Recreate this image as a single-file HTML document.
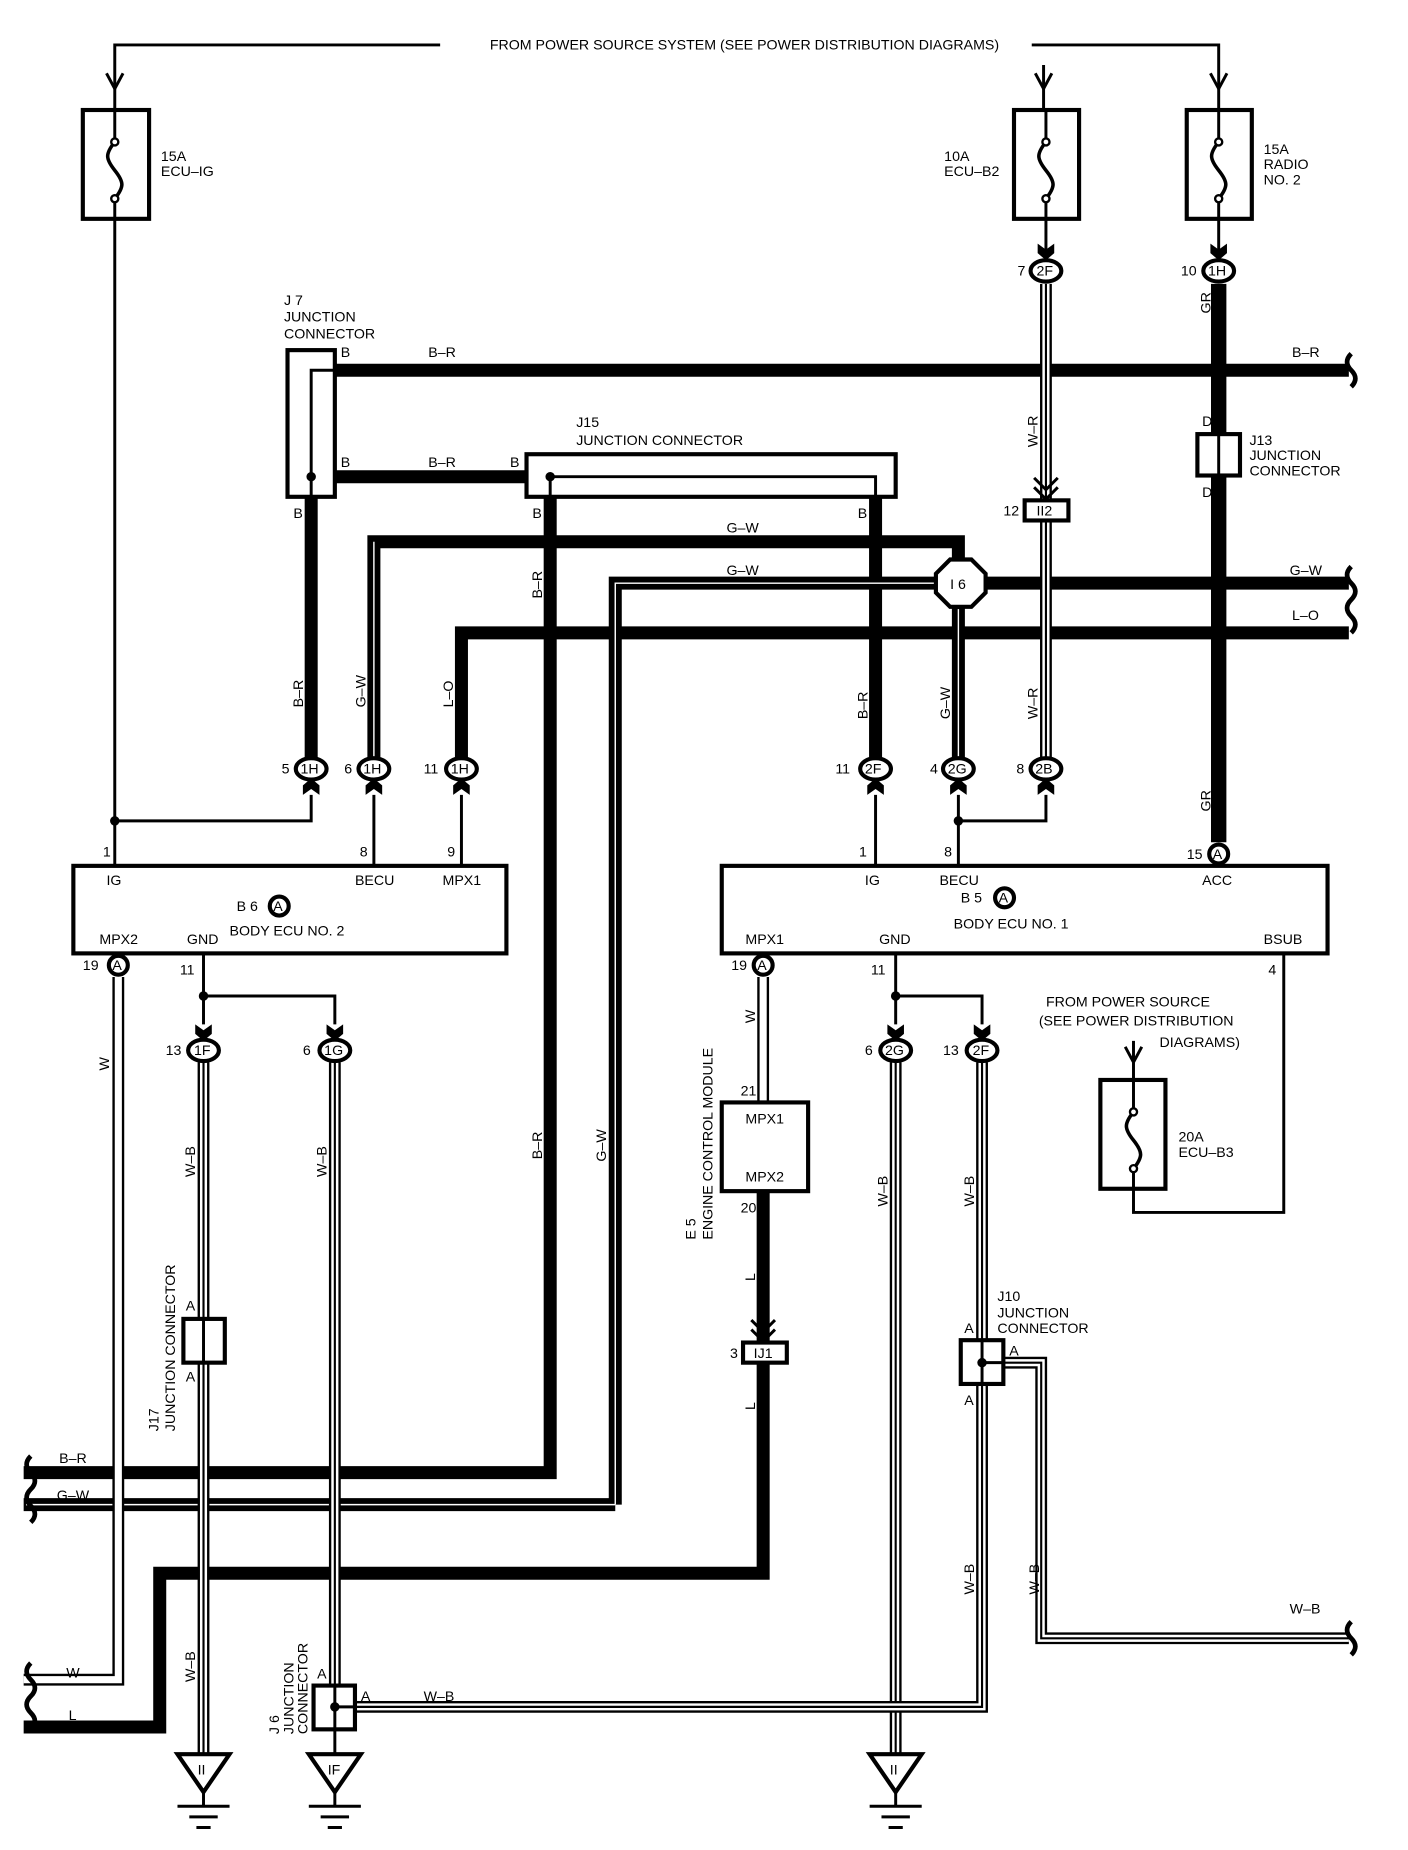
<!DOCTYPE html>
<html><head><meta charset="utf-8"><style>
html,body{margin:0;padding:0;background:#fff}
svg{display:block}
text{font-family:"Liberation Sans",Arial,sans-serif;font-size:12px;fill:#000}
.t{fill:none;stroke:#000;stroke-width:2.5}
.k{fill:none;stroke:#000;stroke-width:11}
.g{fill:none;stroke:#000;stroke-width:13}
.w1{fill:none;stroke:#000;stroke-width:10}
.w2{fill:none;stroke:#fff;stroke-width:6}
.w3{fill:none;stroke:#000;stroke-width:1.8}
.c{fill:#fff;stroke:#000;stroke-width:3.5}
.b{fill:#fff;stroke:#000;stroke-width:3.5}
</style></head><body>
<svg width="1408" height="1850" viewBox="0 0 1190 1564" preserveAspectRatio="none">
<defs>
<path id="p1" d="M884 240V423M884 440V640"/>
<path id="p2" d="M172 898V1483"/>
<path id="p3" d="M283 898V1425"/>
<path id="p4" d="M757 898V1483"/>
<path id="p5" d="M830 898V1133M830 1170V1443H300"/>
<path id="p6" d="M848 1152H880V1385H1140"/>
<path id="q1" d="M100 826V1420H20"/>
<path id="q2" d="M645 826V932"/>
</defs>
<path class="t" d="M372 38H97V93M872 38H1030V93M882 55V93M97 185V732M97 694H263V672M884 185V220M1030 185V220"/>
<path class="t" d="M90 62L97 75L104 62M875 62L882 75L889 62M1023 62L1030 75L1037 62"/>
<text x="414" y="42">FROM POWER SOURCE SYSTEM (SEE POWER DISTRIBUTION DIAGRAMS)</text>
<g class="b"><rect x="70" y="93" width="56" height="92"/><rect x="857" y="93" width="55" height="92"/><rect x="1003" y="93" width="55" height="92"/><rect x="930" y="913" width="55" height="92"/></g>
<g fill="none" stroke="#000" stroke-width="3">
<path d="M97 93V120M97 168V185M884 93V120M884 168V185M1030 93V120M1030 168V185M958 913V940M958 988V1005" stroke-width="2.5"/>
<path d="M97 120c-8 10-8 14 0 24s8 14 0 24"/><path d="M884 120c-8 10-8 14 0 24s8 14 0 24"/><path d="M1030 120c-8 10-8 14 0 24s8 14 0 24"/><path d="M958 940c-8 10-8 14 0 24s8 14 0 24"/>
</g>
<g fill="#fff" stroke="#000" stroke-width="2"><circle cx="97" cy="120" r="3"/><circle cx="97" cy="168" r="3"/><circle cx="884" cy="120" r="3"/><circle cx="884" cy="168" r="3"/><circle cx="1030" cy="120" r="3"/><circle cx="1030" cy="168" r="3"/><circle cx="958" cy="940" r="3"/><circle cx="958" cy="988" r="3"/></g>
<text x="136" y="136">15A</text><text x="136" y="149">ECU–IG</text>
<text x="798" y="136">10A</text><text x="798" y="149">ECU–B2</text>
<text x="1068" y="130">15A</text><text x="1068" y="143">RADIO</text><text x="1068" y="156">NO. 2</text>
<text x="996" y="965">20A</text><text x="996" y="978">ECU–B3</text>
<text x="884" y="851">FROM POWER SOURCE</text><text x="878" y="867">(SEE POWER DISTRIBUTION</text><text x="980" y="885">DIAGRAMS)</text>
<path class="t" d="M958 880V913M958 1005V1025H1085V806M951 885L958 898L965 885"/>
<path class="k" d="M283 313H1140M283 403H445M263 420V640M740 420V640M390 640V535H1140M316 640V458H810V640"/>
<path class="k" d="M465 420V1245H20"/>
<path class="k" d="M520 1272V493H790M833 493H1140M520 1272H20"/>
<path fill="none" stroke="#fff" stroke-width="1.2" d="M316 640V458M520 1272V493H790M520 1272H22M810 515V640"/>
<path class="g" d="M1030 240V712"/>
<path class="k" d="M645 1007V1135M645 1152V1330H135V1460H20"/>
<rect class="b" x="1012" y="367" width="36" height="35"/><path class="t" d="M1030 367V402"/>
<text x="1016" y="360">D</text><text x="1016" y="420">D</text>
<text x="1056" y="376">J13</text><text x="1056" y="389">JUNCTION</text><text x="1056" y="402">CONNECTOR</text>
<use href="#p1" class="w1"/><use href="#p1" class="w2"/><use href="#p1" class="w3"/>
<use href="#p2" class="w1"/><use href="#p2" class="w2"/><use href="#p2" class="w3"/>
<use href="#p3" class="w1"/><use href="#p3" class="w2"/><use href="#p3" class="w3"/>
<use href="#p4" class="w1"/><use href="#p4" class="w2"/><use href="#p4" class="w3"/>
<use href="#p5" class="w1"/><use href="#p5" class="w2"/><use href="#p5" class="w3"/>
<use href="#p6" class="w1"/><use href="#p6" class="w2"/><use href="#p6" class="w3"/>
<use href="#q1" class="w1"/><use href="#q1" stroke="#fff" fill="none" stroke-width="6"/>
<use href="#q2" class="w1"/><use href="#q2" stroke="#fff" fill="none" stroke-width="6"/>
<path class="t" d="M283 1462V1483"/>
<rect class="b" x="243" y="296" width="40" height="124"/><path class="t" d="M283 313H263V420"/><circle cx="263" cy="403" r="4"/>
<rect class="b" x="445" y="384" width="312" height="36"/><path class="t" d="M465 420V403H740V420"/><circle cx="465" cy="403" r="4"/>
<text x="240" y="258">J 7</text><text x="240" y="272">JUNCTION</text><text x="240" y="286">CONNECTOR</text>
<text x="487" y="361">J15</text><text x="487" y="376">JUNCTION CONNECTOR</text>
<text x="288" y="302">B</text><text x="362" y="302">B–R</text><text x="288" y="395">B</text><text x="362" y="395">B–R</text><text x="431" y="395">B</text>
<text x="248" y="438">B</text><text x="450" y="438">B</text><text x="725" y="438">B</text>
<text x="1092" y="302">B–R</text><text x="1090" y="486">G–W</text><text x="1092" y="524">L–O</text>
<text x="614" y="450">G–W</text><text x="614" y="486">G–W</text>
<polygon class="b" points="803,473 821,473 833,485 833,501 821,513 803,513 791,501 791,485"/>
<text x="803" y="498">I 6</text>
<rect class="b" x="866" y="423" width="37" height="17"/><text x="876" y="436">II2</text><text x="848" y="436">12</text>
<path class="t" d="M874 404L884 414L894 404M874 412L884 422L894 412" stroke-width="3.5"/>
<rect class="b" x="628" y="1135" width="37" height="17"/><text x="637" y="1148">IJ1</text><text x="617" y="1148">3</text>
<path class="t" d="M635 1116L645 1126L655 1116M635 1124L645 1134L655 1124" stroke-width="3.5"/>
<g font-size="12">
<text transform="translate(256,598) rotate(-90)">B–R</text>
<text transform="translate(309,598) rotate(-90)">G–W</text>
<text transform="translate(383,598) rotate(-90)">L–O</text>
<text transform="translate(458,506) rotate(-90)">B–R</text>
<text transform="translate(733,608) rotate(-90)">B–R</text>
<text transform="translate(803,608) rotate(-90)">G–W</text>
<text transform="translate(877,378) rotate(-90)">W–R</text>
<text transform="translate(877,608) rotate(-90)">W–R</text>
<text transform="translate(1023,265) rotate(-90)">GR</text>
<text transform="translate(1023,686) rotate(-90)">GR</text>
<text transform="translate(92,905) rotate(-90)">W</text>
<text transform="translate(638,865) rotate(-90)">W</text>
<text transform="translate(165,995) rotate(-90)">W–B</text>
<text transform="translate(276,995) rotate(-90)">W–B</text>
<text transform="translate(750,1020) rotate(-90)">W–B</text>
<text transform="translate(823,1020) rotate(-90)">W–B</text>
<text transform="translate(823,1348) rotate(-90)">W–B</text>
<text transform="translate(878,1348) rotate(-90)">W–B</text>
<text transform="translate(165,1422) rotate(-90)">W–B</text>
<text transform="translate(458,980) rotate(-90)">B–R</text>
<text transform="translate(512,982) rotate(-90)">G–W</text>
<text transform="translate(638,1083) rotate(-90)">L</text>
<text transform="translate(638,1192) rotate(-90)">L</text>
<text transform="translate(588,1048) rotate(-90)">E 5</text>
<text transform="translate(602,1048) rotate(-90)">ENGINE CONTROL MODULE</text>
<text transform="translate(134,1210) rotate(-90)">J17</text>
<text transform="translate(148,1210) rotate(-90)">JUNCTION CONNECTOR</text>
<text transform="translate(236,1466) rotate(-90)">J 6</text>
<text transform="translate(248,1466) rotate(-90)">JUNCTION</text>
<text transform="translate(260,1466) rotate(-90)">CONNECTOR</text>
</g>
<g>
<ellipse class="c" cx="263" cy="650" rx="13" ry="9"/><text x="254" y="654">1H</text><text x="238" y="654">5</text>
<ellipse class="c" cx="316" cy="650" rx="13" ry="9"/><text x="307" y="654">1H</text><text x="291" y="654">6</text>
<ellipse class="c" cx="390" cy="650" rx="13" ry="9"/><text x="381" y="654">1H</text><text x="358" y="654">11</text>
<ellipse class="c" cx="740" cy="650" rx="13" ry="9"/><text x="731" y="654">2F</text><text x="706" y="654">11</text>
<ellipse class="c" cx="810" cy="650" rx="13" ry="9"/><text x="801" y="654">2G</text><text x="786" y="654">4</text>
<ellipse class="c" cx="884" cy="650" rx="13" ry="9"/><text x="875" y="654">2B</text><text x="859" y="654">8</text>
<ellipse class="c" cx="884" cy="229" rx="13" ry="9"/><text x="876" y="233">2F</text><text x="860" y="233">7</text>
<ellipse class="c" cx="1030" cy="229" rx="13" ry="9"/><text x="1021" y="233">1H</text><text x="998" y="233">10</text>
<ellipse class="c" cx="172" cy="888" rx="13" ry="9"/><text x="164" y="892">1F</text><text x="140" y="892">13</text>
<ellipse class="c" cx="283" cy="888" rx="13" ry="9"/><text x="274" y="892">1G</text><text x="256" y="892">6</text>
<ellipse class="c" cx="757" cy="888" rx="13" ry="9"/><text x="748" y="892">2G</text><text x="731" y="892">6</text>
<ellipse class="c" cx="830" cy="888" rx="13" ry="9"/><text x="822" y="892">2F</text><text x="797" y="892">13</text>
<circle class="c" cx="100" cy="816" r="8"/><text x="95" y="820">A</text><text x="70" y="820">19</text>
<circle class="c" cx="645" cy="816" r="8"/><text x="640" y="820">A</text><text x="618" y="820">19</text>
<circle class="c" cx="1030" cy="722" r="8"/><text x="1025" y="726">A</text><text x="1003" y="726">15</text>
</g>
<g fill="#000">
<path d="M256 672V664L263 658L270 664V672L263 667Z"/><path d="M309 672V664L316 658L323 664V672L316 667Z"/><path d="M383 672V664L390 658L397 664V672L390 667Z"/>
<path d="M733 672V664L740 658L747 664V672L740 667Z"/><path d="M803 672V664L810 658L817 664V672L810 667Z"/><path d="M877 672V664L884 658L891 664V672L884 667Z"/>
<path d="M165 866V874L172 880L179 874V866L172 871Z"/><path d="M276 866V874L283 880L290 874V866L283 871Z"/>
<path d="M750 866V874L757 880L764 874V866L757 871Z"/><path d="M823 866V874L830 880L837 874V866L830 871Z"/>
<path d="M877 206V214L884 220L891 214V206L884 211Z"/><path d="M1023 206V214L1030 220L1037 214V206L1030 211Z"/>
</g>
<path class="t" d="M316 672V732M390 672V732M740 672V732M810 672V732M810 694H884V672M172 806V866M172 842H283V866M757 806V866M757 842H830V866"/>
<circle cx="97" cy="694" r="4"/><circle cx="810" cy="694" r="4"/><circle cx="172" cy="842" r="4"/><circle cx="757" cy="842" r="4"/>
<rect class="b" x="62" y="732" width="366" height="74"/>
<text x="87" y="724">1</text><text x="304" y="724">8</text><text x="378" y="724">9</text>
<text x="90" y="748">IG</text><text x="300" y="748">BECU</text><text x="374" y="748">MPX1</text>
<text x="200" y="770">B 6</text><circle class="c" cx="236" cy="766" r="8"/><text x="231" y="770">A</text>
<text x="194" y="791">BODY ECU NO. 2</text><text x="84" y="798">MPX2</text><text x="158" y="798">GND</text><text x="152" y="824">11</text>
<rect class="b" x="610" y="732" width="512" height="74"/>
<text x="726" y="724">1</text><text x="798" y="724">8</text>
<text x="731" y="748">IG</text><text x="794" y="748">BECU</text><text x="1016" y="748">ACC</text>
<text x="812" y="763">B 5</text><circle class="c" cx="849" cy="759" r="8"/><text x="844" y="763">A</text>
<text x="806" y="785">BODY ECU NO. 1</text><text x="630" y="798">MPX1</text><text x="743" y="798">GND</text><text x="1068" y="798">BSUB</text>
<text x="736" y="824">11</text><text x="1072" y="824">4</text>
<rect class="b" x="610" y="932" width="73" height="75"/><text x="630" y="950">MPX1</text><text x="630" y="999">MPX2</text>
<text x="626" y="926">21</text><text x="626" y="1025">20</text>
<rect class="b" x="155" y="1115" width="35" height="37"/><path class="t" d="M172 1115V1152"/>
<text x="157" y="1108">A</text><text x="157" y="1168">A</text>
<rect class="b" x="265" y="1425" width="35" height="37"/><path class="t" d="M283 1425V1462M283 1443H300"/><circle cx="283" cy="1443" r="4"/>
<text x="268" y="1419">A</text><text x="305" y="1438">A</text><text x="358" y="1438">W–B</text>
<rect class="b" x="812" y="1133" width="36" height="37"/><path class="t" d="M830 1133V1170M830 1152H848"/><circle cx="830" cy="1152" r="4"/>
<text x="815" y="1127">A</text><text x="853" y="1146">A</text><text x="815" y="1188">A</text>
<text x="843" y="1100">J10</text><text x="843" y="1114">JUNCTION</text><text x="843" y="1127">CONNECTOR</text>
<text x="1090" y="1364">W–B</text>
<text x="50" y="1237">B–R</text><text x="48" y="1268">G–W</text><text x="56" y="1418">W</text><text x="58" y="1454">L</text>
<g fill="#fff" stroke="#000" stroke-width="3.5">
<polygon points="150,1483 194,1483 172,1515"/><polygon points="261,1483 305,1483 283,1515"/><polygon points="735,1483 779,1483 757,1515"/>
</g>
<text x="167" y="1500">II</text><text x="277" y="1500">IF</text><text x="752" y="1500">II</text>
<path class="t" stroke-width="3" d="M172 1515V1527M150 1527H194M160 1536H184M166 1545H178M283 1515V1527M261 1527H305M271 1536H295M277 1545H289M757 1515V1527M735 1527H779M745 1536H769M751 1545H763"/>
<g fill="none" stroke="#000" stroke-width="4">
<path d="M1142 299q-7 7 0 14q7 7 0 14"/><path d="M1142 479q-7 7 0 14q7 7 0 14q-7 7 0 14q7 7 0 14"/>
<path d="M1142 1371q-7 7 0 14q7 7 0 14"/>
<path d="M26 1231q-7 7 0 14q7 7 0 14q-7 7 0 14q7 7 0 14"/>
<path d="M26 1406q-7 7 0 14q7 7 0 14q-7 7 0 14q7 7 0 14"/>
</g>
</svg>
</body></html>
